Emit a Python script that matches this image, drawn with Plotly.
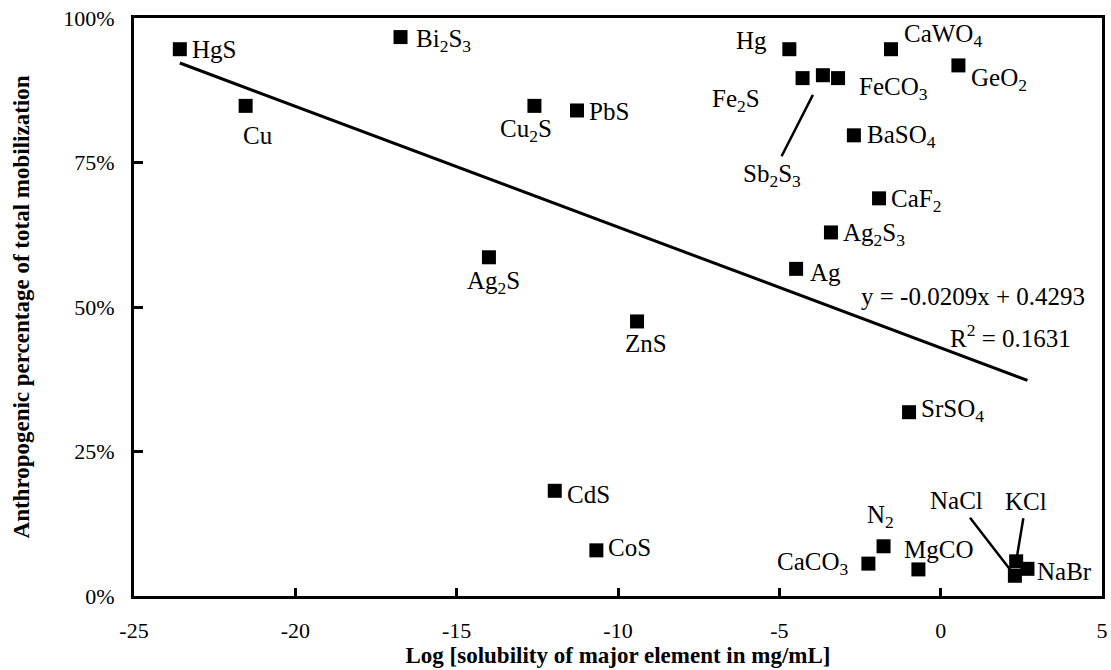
import plotly.graph_objects as go

# ---------------- data ----------------
compounds = ["HgS", "Cu", "Bi2S3", "Cu2S", "PbS", "Ag2S", "ZnS", "CdS", "CoS",
             "Hg", "Fe2S", "Sb2S3", "FeCO3", "CaWO4", "GeO2", "BaSO4", "CaF2",
             "Ag2S3", "Ag", "SrSO4", "CaCO3", "N2", "MgCO", "KCl", "NaBr", "NaCl"]
label_text = ["HgS", "Cu", "Bi<sub>2</sub>S<sub>3</sub>", "Cu<sub>2</sub>S", "PbS",
              "Ag<sub>2</sub>S", "ZnS", "CdS", "CoS", "Hg", "Fe<sub>2</sub>S",
              "Sb<sub>2</sub>S<sub>3</sub>", "FeCO<sub>3</sub>", "CaWO<sub>4</sub>",
              "GeO<sub>2</sub>", "BaSO<sub>4</sub>", "CaF<sub>2</sub>",
              "Ag<sub>2</sub>S<sub>3</sub>", "Ag", "SrSO<sub>4</sub>",
              "CaCO<sub>3</sub>", "N<sub>2</sub>", "MgCO", "KCl", "NaBr", "NaCl"]
log_solubility = [-23.58, -21.54, -16.74, -12.59, -11.27, -14.00, -9.41, -11.96, -10.67,
                  -4.69, -4.28, -3.65, -3.18, -1.54, 0.55, -2.69, -1.91,
                  -3.40, -4.48, -0.98, -2.24, -1.77, -0.69, 2.34, 2.69, 2.30]
anthropogenic_pct = [0.946, 0.848, 0.967, 0.848, 0.840, 0.586, 0.475, 0.182, 0.079,
                     0.946, 0.896, 0.901, 0.896, 0.946, 0.918, 0.797, 0.688,
                     0.629, 0.566, 0.318, 0.056, 0.086, 0.046, 0.060, 0.047, 0.035]

trend_slope = -0.0209
trend_intercept = 0.4293
r_squared = 0.1631

x_ticks = [-25, -20, -15, -10, -5, 0, 5]
y_ticks = [0, 0.25, 0.5, 0.75, 1.0]

# ---------------- label placement (layout only) ----------------
# name: (mode, xanchor, dx, dy)   mode 'text' -> offset label; 'arrow' -> leader line
label_place = {
    "HgS": ("text", "left", 10, 0),
    "Cu": ("text", "center", 12, -30),
    "Bi2S3": ("text", "left", 13, -3),
    "Cu2S": ("text", "center", -8, -25),
    "PbS": ("text", "left", 10, -1),
    "Ag2S": ("text", "center", 5, -25),
    "ZnS": ("text", "center", 9, -22),
    "CdS": ("text", "left", 10, -4),
    "CoS": ("text", "left", 10, 3),
    "Hg": ("text", "right", -20, 9),
    "Fe2S": ("text", "center", -67, -22),
    "Sb2S3": ("arrow", "center", -51, 100),
    "FeCO3": ("text", "left", 19, -10),
    "CaWO4": ("text", "left", 11, 14),
    "GeO2": ("text", "left", 11, -14),
    "BaSO4": ("text", "left", 11, -1),
    "CaF2": ("text", "left", 10, -2),
    "Ag2S3": ("text", "left", 10, -2),
    "Ag": ("text", "left", 12, -4),
    "SrSO4": ("text", "left", 10, 2),
    "CaCO3": ("text", "right", -17, 0),
    "N2": ("text", "center", -3, 30),
    "MgCO": ("text", "left", -16, 20),
    "KCl": ("arrow", "center", 10, -60),
    "NaBr": ("text", "left", 8, -3),
    "NaCl": ("arrow", "center", -58, -75),
}

FONT = "Liberation Serif, Times New Roman, serif"
LABEL_SIZE = 25

fig = go.Figure()

# trend line over data range
x_lo, x_hi = min(log_solubility), max(log_solubility)
fig.add_trace(go.Scatter(
    x=[x_lo, x_hi],
    y=[trend_slope * x_lo + trend_intercept, trend_slope * x_hi + trend_intercept],
    mode="lines", line=dict(color="black", width=3), hoverinfo="skip",
    showlegend=False))

fig.add_trace(go.Scatter(
    x=log_solubility, y=anthropogenic_pct, mode="markers",
    marker=dict(symbol="square", size=14, color="black"),
    text=compounds, showlegend=False))

annotations = []
for name, txt, xv, yv in zip(compounds, label_text, log_solubility, anthropogenic_pct):
    mode, xa, dx, dy = label_place[name]
    if mode == "text":
        annotations.append(dict(
            x=xv, y=yv, xref="x", yref="y", text=txt, showarrow=False,
            xanchor=xa, yanchor="middle", xshift=dx, yshift=dy,
            font=dict(family=FONT, size=LABEL_SIZE, color="black")))
    else:
        annotations.append(dict(
            x=xv, y=yv, xref="x", yref="y", text=txt, showarrow=True,
            ax=dx, ay=dy, arrowhead=0, arrowwidth=2.5, arrowcolor="black",
            standoff=(22 if name == "Sb2S3" else 6), borderpad=3,
            font=dict(family=FONT, size=LABEL_SIZE, color="black")))

annotations.append(dict(
    x=0.984, y=0.518, xref="paper", yref="paper", xanchor="right", yanchor="middle",
    text=f"y = {trend_slope:.4f}x + {trend_intercept:.4f}", showarrow=False,
    font=dict(family=FONT, size=LABEL_SIZE, color="black")))
annotations.append(dict(
    x=0.970, y=0.449, xref="paper", yref="paper", xanchor="right", yanchor="middle",
    text=f"R<sup>2</sup> = {r_squared:.4f}", showarrow=False,
    font=dict(family=FONT, size=LABEL_SIZE, color="black")))

fig.update_layout(
    width=1111, height=670,
    margin=dict(l=134, r=9, t=18, b=74, autoexpand=False),
    paper_bgcolor="white", plot_bgcolor="white",
    font=dict(family=FONT, size=22, color="black"),
    annotations=annotations,
    xaxis=dict(
        range=[-25, 5], tickvals=x_ticks, ticktext=[str(v) for v in x_ticks],
        showgrid=False, zeroline=False,
        showline=True, linecolor="black", linewidth=3, mirror=True,
        ticks="inside", ticklen=8, tickwidth=2.5, tickcolor="black",
        ticklabelstandoff=13,
        tickfont=dict(family=FONT, size=22, color="black"),
        title=dict(text="<b>Log [solubility of major element in mg/mL]</b>",
                   font=dict(family=FONT, size=23, color="black"), standoff=5),
        automargin=False,
    ),
    yaxis=dict(
        range=[0, 1], tickvals=y_ticks, tickformat=".0%",
        showgrid=False, zeroline=False,
        showline=True, linecolor="black", linewidth=3, mirror=True,
        ticks="inside", ticklen=9, tickwidth=2.5, tickcolor="black",
        ticklabelstandoff=12,
        tickfont=dict(family=FONT, size=22, color="black"),
        title=dict(text="<b>Anthropogenic percentage of total mobilization</b>",
                   font=dict(family=FONT, size=23, color="black"), standoff=28),
        automargin=False,
    ),
)

fig.write_html("out.html")
